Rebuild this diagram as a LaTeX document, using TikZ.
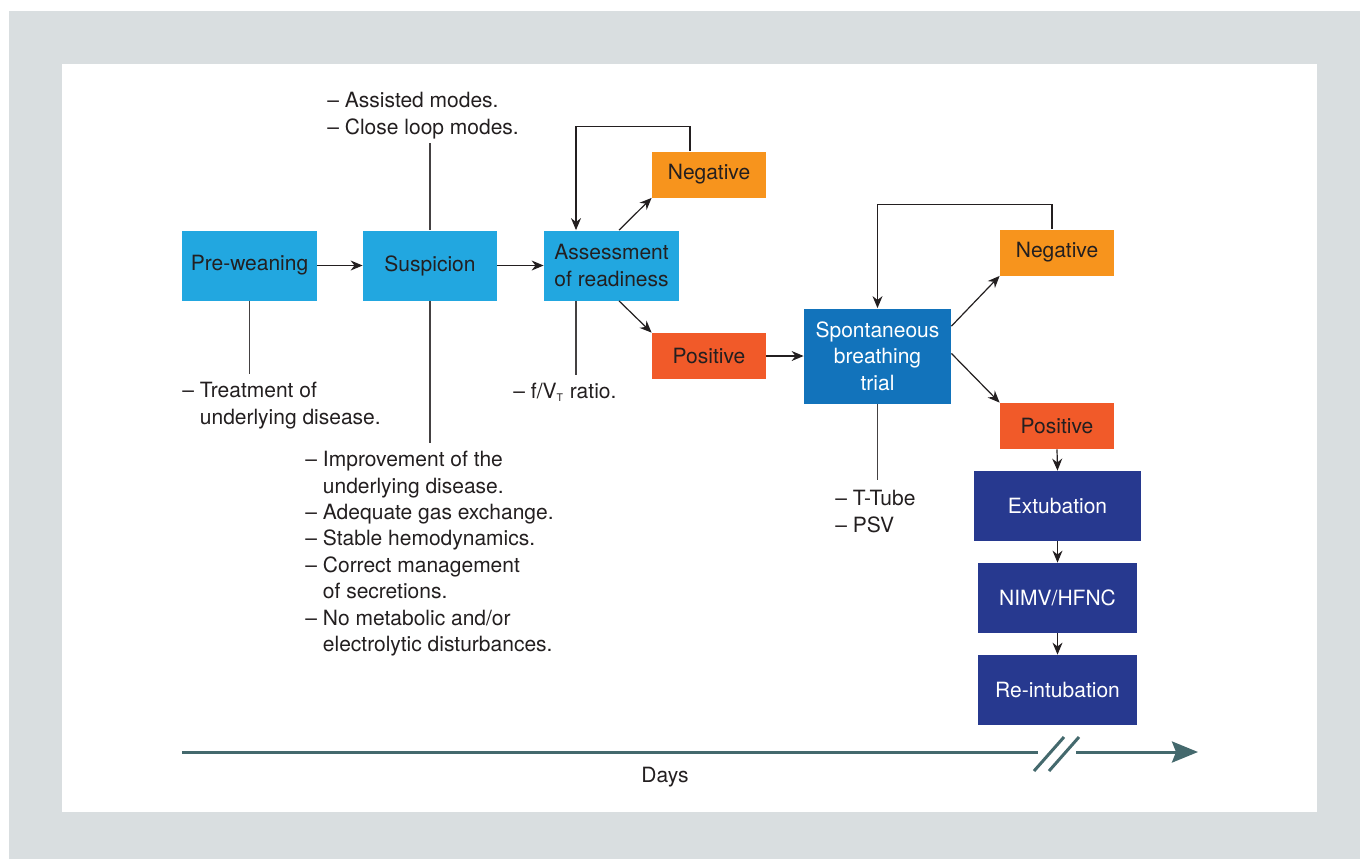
\documentclass[tikz,border=0pt]{standalone}
\usepackage{fontspec}
\setmainfont{TeX Gyre Heros}
\usepackage{xcolor}
\usetikzlibrary{arrows.meta,positioning,calc}

\definecolor{bggray}{HTML}{D9DEE0}
\definecolor{ink}{HTML}{231F20}
\definecolor{skyblue}{HTML}{22A7E0}
\definecolor{sbtblue}{HTML}{1273BB}
\definecolor{navy}{HTML}{27398F}
\definecolor{negorange}{HTML}{F7941D}
\definecolor{posred}{HTML}{F15A29}
\definecolor{axisteal}{HTML}{44696D}

\newcommand{\itemdash}{\textendash\ }
\newcommand{\itemgap}{\phantom{\textendash\ }}

\begin{document}
\begin{tikzpicture}[
    x=0.5pt, y=-0.5pt,
    box/.style={rectangle, inner sep=0pt, align=center, text=ink, minimum height=35pt, font=\fontsize{10.5}{13.3}\selectfont},
    skybox/.style={box, fill=skyblue, minimum width=67.5pt},
    negbox/.style={box, fill=negorange, minimum width=57pt, minimum height=23pt},
    posbox/.style={box, fill=posred, minimum width=57pt, minimum height=23pt},
    sbtbox/.style={box, fill=sbtblue, text=white, minimum width=73.5pt, minimum height=47.5pt},
    navybox/.style={box, fill=navy, text=white, minimum width=79.5pt},
    note/.style={anchor=north west, align=left, inner xsep=0pt, inner ysep=4pt, text=ink, font=\fontsize{10.5}{13.2}\selectfont},
    arr/.style={-{Stealth[length=6pt,width=5pt]}, ink, line width=0.6pt},
    lead/.style={ink!85, line width=0.6pt},
    daysline/.style={axisteal, line width=1.5pt}
]
\useasboundingbox (0,0) rectangle (1360,859);
\fill[bggray] (9,11) rectangle (1360,859);
\fill[white] (62,64) rectangle (1317,812);

% main row
\node[skybox] (pre) at (249.5,265.5) {Pre-weaning};
\node[skybox, minimum width=67pt] (susp) at (430,265.5) {Suspicion};
\node[skybox] (assess) at (611.5,265.5) {Assessment\\of readiness};
\node[negbox] (neg-a) at (709,174.5) {Negative};
\node[posbox] (pos-a) at (709,356) {Positive};
\node[sbtbox] (sbt) at (877.5,356) {Spontaneous\\breathing\\trial};
\node[negbox] (neg-b) at (1057,252.5) {Negative};
\node[posbox] (pos-b) at (1057,426) {Positive};
\node[navybox, minimum width=83.5pt] (extub) at (1057.5,506) {Extubation};
\node[navybox] (nimv) at (1057.5,598) {NIMV/HFNC};
\node[navybox] (reint) at (1057.5,690) {Re-intubation};

% notes
\node[note, inner ysep=2pt] (modes) at (327,88) {\itemdash Assisted modes.\\\itemdash Close loop modes.};
\node[note] (trt) at (182,374) {\itemdash Treatment of\\\itemgap underlying disease.};
\node[note] (ratio) at (513,375) {\itemdash f/V{\fontsize{7.5}{9}\selectfont\textsubscript{T}} ratio.};
\node[note] (crit) at (305,443) {\itemdash Improvement of the\\\itemgap underlying disease.\\\itemdash Adequate gas exchange.\\\itemdash Stable hemodynamics.\\\itemdash Correct management\\\itemgap of secretions.\\\itemdash No metabolic and/or\\\itemgap electrolytic disturbances.};
\node[note, inner ysep=2pt] (tube) at (835,486) {\itemdash T-Tube\\\itemdash PSV};

\foreach \a/\b in {pre/susp, susp/assess, pos-a/sbt}
    \draw[arr] (\a) -- (\b);
\foreach \a/\b in {pos-b/extub, extub/nimv, nimv/reint}
    \draw[arr] (\a.south) -- (\b.north);
\draw[arr] (assess.78) -- (neg-a.south west);
\draw[arr] (assess.-78) -- (pos-a.north west);
\draw[arr] (sbt.22) -- (neg-b.south west);
\draw[arr] (sbt.2) -- (pos-b.north west);
\draw[arr] ([xshift=-9.5pt]neg-a.north) -- ++(0,-25) -| ([xshift=-17.75pt]assess.north);
\draw[arr] ([xshift=-2.5pt]neg-b.north) -- ++(0,-25) -| (sbt.north);

\draw[lead] (pre.south) -- (pre.south |- trt.north);
\draw[lead] (susp.north) -- (susp.north |- modes.south);
\draw[lead] (susp.south) -- (susp.south |- crit.north);
\draw[lead] ([xshift=-17.75pt]assess.south) -- ([xshift=-17.75pt]assess.south |- ratio.north);
\draw[lead] (sbt.south) -- ([yshift=3pt]sbt.south |- tube.north);

% time axis
\coordinate (d0) at (182,752);
\coordinate (d1) at (1038,752);
\coordinate (d2) at (1076,752);
\coordinate (d3) at (1198,752);
\draw[daysline] (d0) -- (d1);
\draw[daysline, -{Stealth[length=13pt,width=10.5pt,inset=2pt]}] (d2) -- (d3);
\draw[daysline] (1034,771) -- (1064,737);
\draw[daysline] (1049,771) -- (1079,737);
\node[text=ink, font=\fontsize{10.5}{13.2}\selectfont] (days) at (665,777) {Days};
\end{tikzpicture}
\end{document}
